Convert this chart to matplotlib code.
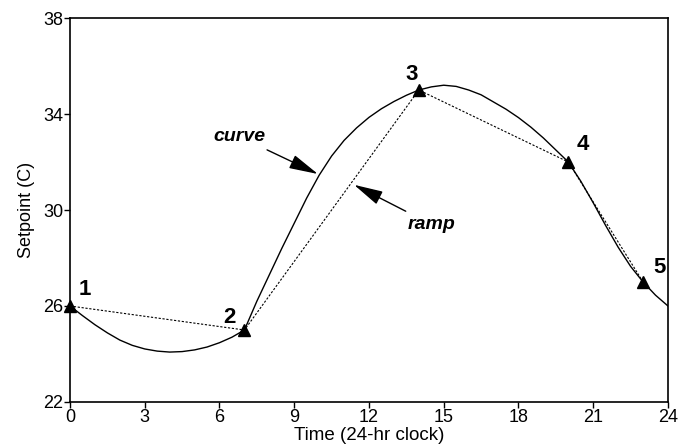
import matplotlib
matplotlib.use("Agg")
import matplotlib.pyplot as plt

plt.rcParams['font.family'] = ['Liberation Sans', 'DejaVu Sans']

# setpoints (ramp corners)
ramp_x = [0, 7, 14, 20, 23]
ramp_y = [26, 25, 35, 32, 27]
point_labels = ['1', '2', '3', '4', '5']

# smooth curve, every half hour
curve_x = [0, 0.5, 1, 1.5, 2, 2.5, 3, 3.5, 4, 4.5, 5, 5.5, 6, 6.5, 7, 7.5, 8, 8.5,
           9, 9.5, 10, 10.5, 11, 11.5, 12, 12.5, 13, 13.5, 14, 14.5, 15, 15.5, 16,
           16.5, 17, 17.5, 18, 18.5, 19, 19.5, 20, 20.5, 21, 21.5, 22, 22.5, 23, 23.5, 24]
curve_y = [26.0, 25.6, 25.22, 24.88, 24.58, 24.36, 24.21, 24.12, 24.08, 24.1, 24.17,
           24.29, 24.47, 24.7, 25.0, 26.2, 27.3, 28.4, 29.45, 30.5, 31.45, 32.25, 32.9,
           33.42, 33.86, 34.22, 34.52, 34.78, 35.0, 35.13, 35.2, 35.15, 35.0, 34.8, 34.5,
           34.2, 33.85, 33.45, 33.0, 32.5, 32.0, 31.2, 30.3, 29.35, 28.45, 27.65, 27.0,
           26.45, 26.0]

x_ticks = [0, 3, 6, 9, 12, 15, 18, 21, 24]
y_ticks = [22, 26, 30, 34, 38]

fig = plt.figure(figsize=(6.89, 4.47), dpi=100)
ax = fig.add_axes([0.1016, 0.1007, 0.8679, 0.859])

ax.plot(curve_x, curve_y, color='black', lw=1.0)
ax.plot(ramp_x, ramp_y, color='black', lw=0.8, ls=(0, (2, 1.5)))
ax.plot(ramp_x, ramp_y, ls='none', marker='^', ms=9, color='black', clip_on=False)

# number labels next to each point
offsets = [(0.6, 0.7), (-0.6, 0.5), (-0.3, 0.65), (0.6, 0.75), (0.65, 0.6)]
for xv, yv, lab, (dx, dy) in zip(ramp_x, ramp_y, point_labels, offsets):
    ax.text(xv + dx, yv + dy, lab, fontsize=16, fontweight='bold', ha='center', va='center')

arrow = dict(arrowstyle='-|>,head_length=0.9,head_width=0.22', color='black', lw=1.0,
             mutation_scale=20, shrinkA=3, shrinkB=0)
ax.annotate('curve', xy=(9.95, 31.5), xytext=(7.85, 33.05), fontsize=14,
            fontweight='bold', style='italic', ha='right', va='center', arrowprops=arrow)
ax.annotate('ramp', xy=(11.4, 31.05), xytext=(13.55, 29.4), fontsize=14,
            fontweight='bold', style='italic', ha='left', va='center', arrowprops=arrow)

ax.set_xlim(0, 24)
ax.set_ylim(22, 38)
ax.set_xticks(x_ticks)
ax.set_yticks(y_ticks)
ax.tick_params(direction='out', length=4, width=1, labelsize=13, pad=1)
for s in ax.spines.values():
    s.set_linewidth(1.2)
ax.set_xlabel('Time (24-hr clock)', fontsize=13.5, labelpad=1)
ax.set_ylabel('Setpoint (C)', fontsize=13, labelpad=6)

fig.savefig('out.png', dpi=100)
